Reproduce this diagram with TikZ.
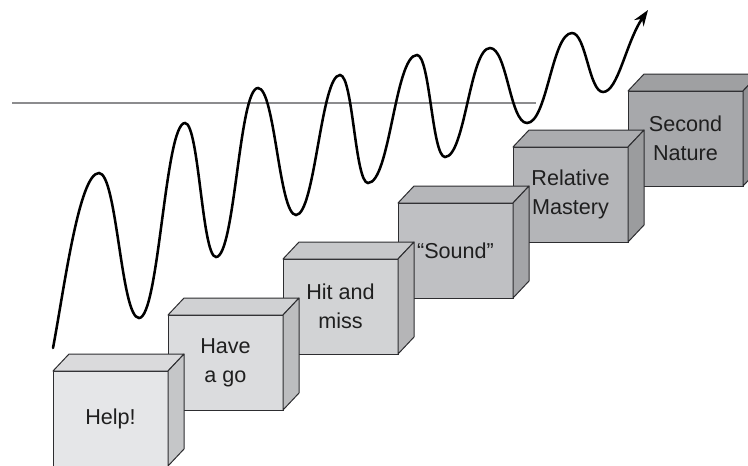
\documentclass[tikz,border=0pt]{standalone}
\usepackage{fontspec}
\setmainfont{Liberation Sans}
\usetikzlibrary{arrows.meta}

\definecolor{outline}{RGB}{45,45,48}
\definecolor{rule}{RGB}{140,140,142}
\definecolor{faceA}{RGB}{229,230,232}
\definecolor{faceB}{RGB}{219,220,222}
\definecolor{faceC}{RGB}{210,211,213}
\definecolor{faceD}{RGB}{191,192,195}
\definecolor{faceE}{RGB}{180,181,184}
\definecolor{faceF}{RGB}{167,168,171}

\tikzset{every picture/.style={line width=0.75pt}}
\tikzset{
  stage/.style={draw=outline, fill=#1, rectangle, inner sep=0pt, outer sep=0pt,
    minimum width=86.25pt, minimum height=71.25pt, align=center,
    text=black!88, font=\fontsize{16.2}{21.5}\selectfont},
  stagetop/.style={draw=outline, fill=#1!95!black, line join=round},
  stageside/.style={draw=outline, fill=#1!86!black, line join=round},
  progress/.style={line width=1.9pt, line cap=round, -{Stealth[length=12pt,width=8.5pt]}}
}

\begin{document}
\begin{tikzpicture}[x=0.75pt,y=0.75pt,yscale=-1,xscale=1]
\useasboundingbox (0,0) rectangle (748,465);
\clip (0,0) rectangle (748,465);

%Straight Lines
\coordinate (ruleL) at (12,103);
\coordinate (ruleR) at (536,103);
\draw [rule, line width=0.9pt] (ruleL) -- (ruleR) ;

%Curve Lines
\draw [progress] (53,348) .. controls (64,290) and (79,173) .. (99,173)
  .. controls (117,173) and (121,318) .. (139,318)
  .. controls (159,318) and (165,123) .. (185,123)
  .. controls (199,123) and (202,257) .. (216,257)
  .. controls (235,257) and (239,88) .. (258,88)
  .. controls (275,88) and (279,215) .. (296,215)
  .. controls (315,215) and (321,75) .. (340,75)
  .. controls (353,75) and (355,183) .. (368,183)
  .. controls (390,183) and (395,55) .. (417,55)
  .. controls (430,55) and (432,157) .. (445,157)
  .. controls (465,157) and (470,48) .. (490,48)
  .. controls (507,48) and (510,123) .. (527,123)
  .. controls (547,123) and (552,33) .. (572,33)
  .. controls (586,33) and (589,92) .. (603,92)
  .. controls (618,92) and (626,42) .. (648,10) ;

%Shape: Box Second Nature
\node [stage=faceF] (second) at (685.5,138.5) {Second\\Nature};
\draw [stagetop=faceF] (second.north west) -- ++(16,-17) -- ++(115,0) -- (second.north east) -- cycle ;
\draw [stageside=faceF] (second.north east) -- ++(16,-17) -- ++(0,95) -- (second.south east) -- cycle ;

%Shape: Box Relative Mastery
\node [stage=faceE] (relative) at (570.5,194.5) {Relative\\Mastery};
\draw [stagetop=faceE] (relative.north west) -- ++(16,-17) -- ++(115,0) -- (relative.north east) -- cycle ;
\draw [stageside=faceE] (relative.north east) -- ++(16,-17) -- ++(0,95) -- (relative.south east) -- cycle ;

%Shape: Box Sound
\node [stage=faceD] (sound) at (455.5,250.5) {“Sound”};
\draw [stagetop=faceD] (sound.north west) -- ++(16,-17) -- ++(115,0) -- (sound.north east) -- cycle ;
\draw [stageside=faceD] (sound.north east) -- ++(16,-17) -- ++(0,95) -- (sound.south east) -- cycle ;

%Shape: Box Hit and miss
\node [stage=faceC] (hitmiss) at (340.5,306.5) {Hit and\\miss};
\draw [stagetop=faceC] (hitmiss.north west) -- ++(16,-17) -- ++(115,0) -- (hitmiss.north east) -- cycle ;
\draw [stageside=faceC] (hitmiss.north east) -- ++(16,-17) -- ++(0,95) -- (hitmiss.south east) -- cycle ;

%Shape: Box Have a go
\node [stage=faceB] (havego) at (225.5,362.5) {Have\\a go};
\draw [stagetop=faceB] (havego.north west) -- ++(16,-17) -- ++(115,0) -- (havego.north east) -- cycle ;
\draw [stageside=faceB] (havego.north east) -- ++(16,-17) -- ++(0,95) -- (havego.south east) -- cycle ;

%Shape: Box Help
\node [stage=faceA] (help) at (110.5,418.5) {Help!};
\draw [stagetop=faceA] (help.north west) -- ++(16,-17) -- ++(115,0) -- (help.north east) -- cycle ;
\draw [stageside=faceA] (help.north east) -- ++(16,-17) -- ++(0,95) -- (help.south east) -- cycle ;

\end{tikzpicture}
\end{document}
